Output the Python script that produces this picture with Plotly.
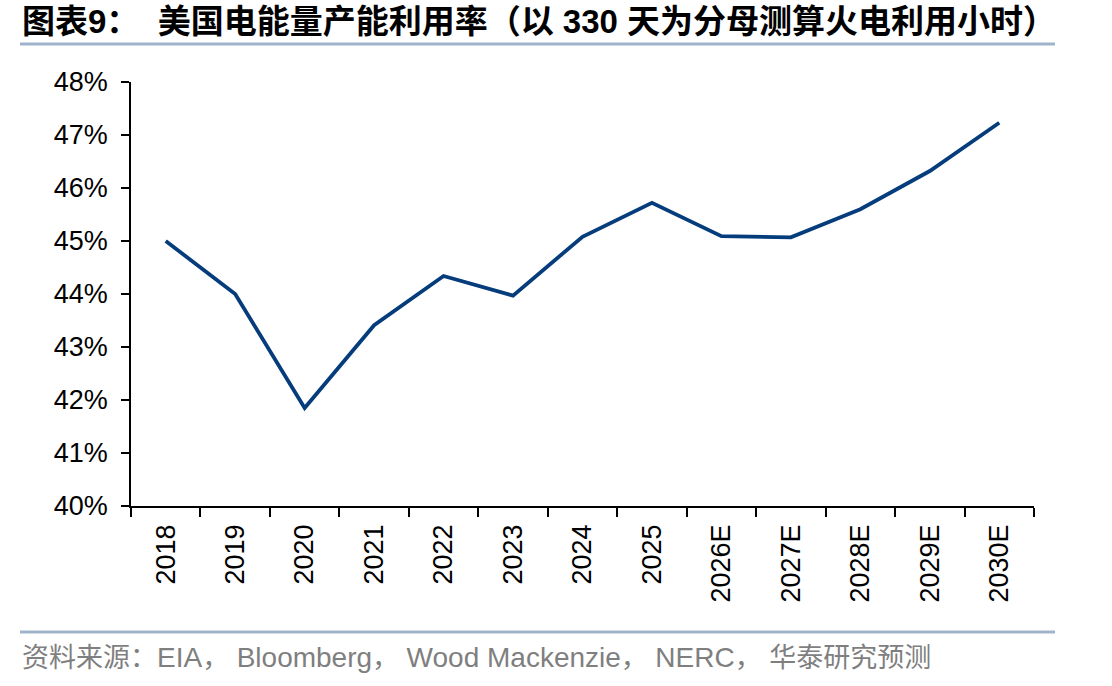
import plotly.graph_objects as go

years = ["2018", "2019", "2020", "2021", "2022", "2023", "2024", "2025",
         "2026E", "2027E", "2028E", "2029E", "2030E"]
utilization = [45.00, 44.00, 41.85, 43.41, 44.34, 43.97, 45.08, 45.72,
               45.09, 45.07, 45.60, 46.32, 47.23]
y_ticks = [40, 41, 42, 43, 44, 45, 46, 47, 48]
y_tick_labels = [f"{v}%" for v in y_ticks]

title_text = "图表9：  美国电能量产能利用率（以 330 天为分母测算火电利用小时）"
source_parts = ["资料来源：", "EIA", "， ", "Bloomberg", "， ", "Wood Mackenzie",
                "， ", "NERC", "， ", "华泰研究预测"]

W, H = 1112, 686
L, R, T, B = 131, 1034, 82, 506

def px_x(px):
    return (px - L) / (R - L)

def px_y(py):
    return (B - py) / (B - T)

def latin(s):
    return s.isascii()

source_html = "".join(
    f'<span style="font-size:28px">{p}</span>' if latin(p) else p
    for p in source_parts
)

fig = go.Figure()
fig.add_trace(go.Scatter(
    x=years, y=utilization, mode="lines",
    line=dict(color="#053C7C", width=3.8),
    hoverinfo="x+y",
))

font_main = "Liberation Sans, Arial, Noto Sans CJK SC"

fig.update_layout(
    width=W, height=H,
    margin=dict(l=L, r=W - R, t=T, b=H - B, pad=0),
    paper_bgcolor="white", plot_bgcolor="white",
    showlegend=False,
    font=dict(family=font_main, size=27, color="black"),
    xaxis=dict(
        type="category",
        range=[-0.5, len(years) - 0.5],
        tickson="boundaries",
        ticks="outside", ticklen=9, tickwidth=1.5, tickcolor="black",
        showline=True, linecolor="black", linewidth=1.5,
        showgrid=False, zeroline=False,
        tickangle=-90,
        tickfont=dict(size=27, color="black"),
        ticklabelstandoff=6,
    ),
    yaxis=dict(
        range=[40, 48],
        tickmode="array", tickvals=y_ticks, ticktext=y_tick_labels,
        ticks="outside", ticklen=8, tickwidth=1.5, tickcolor="black",
        showline=True, linecolor="black", linewidth=1.5,
        showgrid=False, zeroline=False,
        tickfont=dict(size=27, color="black"),
        ticklabelstandoff=8,
    ),
    annotations=[
        dict(text=title_text, xref="paper", yref="paper",
             x=px_x(20), y=px_y(22), xanchor="left", yanchor="middle",
             showarrow=False,
             font=dict(family="Liberation Sans, Noto Sans CJK SC", size=33,
                       color="black", weight="bold")),
        dict(text=source_html, xref="paper", yref="paper",
             x=px_x(20), y=px_y(657), xanchor="left", yanchor="middle",
             showarrow=False,
             font=dict(family="Liberation Sans, Noto Sans CJK SC", size=27,
                       color="#7F7F7F")),
    ],
    shapes=[
        dict(type="line", xref="paper", yref="paper",
             x0=px_x(20), x1=px_x(1055), y0=px_y(44), y1=px_y(44),
             line=dict(color="#9FB3CB", width=3)),
        dict(type="line", xref="paper", yref="paper",
             x0=px_x(20), x1=px_x(1055), y0=px_y(632), y1=px_y(632),
             line=dict(color="#9FB3CB", width=3)),
    ],
)

fig.write_html("out.html")
